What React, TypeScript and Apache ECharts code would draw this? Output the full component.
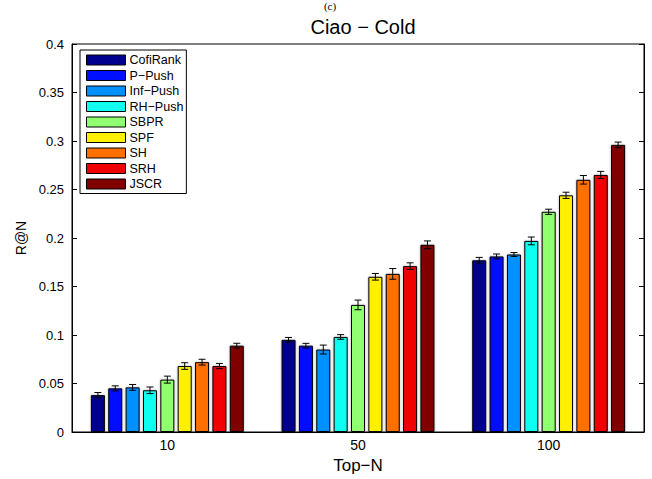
import React, { useEffect, useRef } from "react";
import * as echarts from "echarts";

const categories = ["10", "50", "100"];
const methods = ["CofiRank", "P−Push", "Inf−Push", "RH−Push", "SBPR", "SPF", "SH", "SRH", "JSCR"];
const colors = ["#00008F", "#0010FF", "#0090FF", "#10FFEF", "#90FF70", "#FFF000", "#FF7000", "#F00000", "#800000"];

const cofiRank = [0.038, 0.095, 0.177];
const pPush = [0.045, 0.089, 0.181];
const infPush = [0.046, 0.085, 0.183];
const rhPush = [0.043, 0.098, 0.197];
const sbpr = [0.054, 0.131, 0.227];
const spf = [0.068, 0.16, 0.244];
const sh = [0.072, 0.163, 0.26];
const srh = [0.068, 0.171, 0.265];
const jscr = [0.089, 0.193, 0.296];

const errCofiRank = [0.0027, 0.0025, 0.003];
const errPPush = [0.0026, 0.0024, 0.0025];
const errInfPush = [0.003, 0.0046, 0.002];
const errRhPush = [0.0034, 0.0024, 0.004];
const errSbpr = [0.0036, 0.005, 0.0027];
const errSpf = [0.0034, 0.0034, 0.0032];
const errSh = [0.003, 0.0055, 0.0044];
const errSrh = [0.0027, 0.0034, 0.0037];
const errJscr = [0.0025, 0.004, 0.0029];

const yTicks = { min: 0, max: 0.4, interval: 0.05 };

const values = [cofiRank, pPush, infPush, rhPush, sbpr, spf, sh, srh, jscr];
const errors = [errCofiRank, errPPush, errInfPush, errRhPush, errSbpr, errSpf, errSh, errSrh, errJscr];

const BAR_W = 14;
const BAR_GAP = 0.24;
const FONT = "'Liberation Sans', Arial, Helvetica, sans-serif";

export default function App() {
  const ref = useRef<HTMLDivElement>(null);
  useEffect(() => {
    if (!ref.current) return;
    const chart = echarts.init(ref.current, null, { renderer: "svg" });
    const n = methods.length;
    const pitch = BAR_W * (1 + BAR_GAP);

    const barSeries = methods.map((m, i) => ({
      name: m,
      type: "bar",
      data: values[i],
      barWidth: BAR_W,
      barGap: BAR_GAP * 100 + "%",
      itemStyle: {
        color: colors[i],
        borderColor: "#000",
        borderWidth: 1,
        shadowColor: "rgba(0,0,0,0.35)",
        shadowBlur: 2,
      },
      z: 2,
    }));

    const errSeries = methods.map((m, i) => ({
      name: "err-" + m,
      type: "custom",
      z: 5,
      data: values[i].map((v, k) => [k, v, errors[i][k]]),
      encode: { x: 0, y: 1 },
      renderItem: (params: any, api: any) => {
        const k = api.value(0);
        const v = api.value(1);
        const e = api.value(2);
        const hi = api.coord([k, v + e]);
        const lo = api.coord([k, v - e]);
        const x = hi[0] + (i - (n - 1) / 2) * pitch;
        const cap = 3.5;
        const style = { stroke: "#000", lineWidth: 1 };
        return {
          type: "group",
          children: [
            { type: "line", shape: { x1: x, y1: hi[1], x2: x, y2: lo[1] }, style },
            { type: "line", shape: { x1: x - cap, y1: hi[1], x2: x + cap, y2: hi[1] }, style },
            { type: "line", shape: { x1: x - cap, y1: lo[1], x2: x + cap, y2: lo[1] }, style },
          ],
        };
      },
    }));

    chart.setOption({
      animation: false,
      textStyle: { fontFamily: FONT },
      title: {
        text: "Ciao − Cold",
        left: 358,
        top: 12,
        textAlign: "center",
        textStyle: { fontSize: 20, fontWeight: "normal", color: "#000", fontFamily: FONT },
      },
      graphic: [
        {
          type: "text",
          x: 330,
          y: 0,
          style: {
            text: "(c)",
            fontSize: 11,
            fontFamily: "'Liberation Serif', 'DejaVu Serif', serif",
            fill: "#000",
            textAlign: "center",
            textVerticalAlign: "top",
          },
        },
      ],
      legend: {
        orient: "vertical",
        left: 80,
        top: 50,
        data: methods,
        icon: "rect",
        itemWidth: 39,
        itemHeight: 10,
        itemGap: 2.5,
        padding: [3.5, 3, 3, 6],
        backgroundColor: "#fff",
        borderColor: "#000",
        borderWidth: 1,
        borderRadius: 0,
        textStyle: { fontSize: 12.5, lineHeight: 12.5, color: "#000", fontFamily: FONT, padding: [0, 0, 0, -1] },
        itemStyle: { borderColor: "#000", borderWidth: 1, shadowBlur: 0 },
        z: 10,
      },
      grid: {
        left: 72,
        right: 8,
        top: 44,
        bottom: 44,
        show: true,
        borderColor: "#000",
        borderWidth: 1,
        backgroundColor: "transparent",
      },
      xAxis: {
        type: "category",
        data: categories,
        name: "Top−N",
        nameLocation: "middle",
        nameGap: 25,
        nameTextStyle: { fontSize: 17, color: "#000", fontFamily: FONT },
        axisLine: { show: true, lineStyle: { color: "#000", width: 1 } },
        axisTick: { show: false },
        axisLabel: { fontSize: 14, color: "#000", margin: 6, fontFamily: FONT },
        splitLine: { show: false },
      },
      yAxis: [
        {
          type: "value",
          min: yTicks.min,
          max: yTicks.max,
          interval: yTicks.interval,
          name: "R@N",
          nameLocation: "middle",
          nameGap: 40,
          nameTextStyle: { fontSize: 14, color: "#000", fontFamily: FONT },
          axisLine: { show: true, lineStyle: { color: "#000", width: 1 } },
          axisTick: { show: true, inside: true, length: 5, lineStyle: { color: "#000" } },
          axisLabel: { fontSize: 13, color: "#000", margin: 8, fontFamily: FONT },
          splitLine: { show: false },
        },
        {
          type: "value",
          position: "right",
          min: yTicks.min,
          max: yTicks.max,
          interval: yTicks.interval,
          axisLine: { show: true, lineStyle: { color: "#000", width: 1 } },
          axisTick: { show: true, inside: true, length: 5, lineStyle: { color: "#000" } },
          axisLabel: { show: false },
          splitLine: { show: false },
        },
      ],
      series: [...barSeries, ...errSeries],
    });
    return () => chart.dispose();
  }, []);
  return <div ref={ref} style={{ width: 652, height: 479, position: "absolute", left: 0, top: 0 }} />;
}
